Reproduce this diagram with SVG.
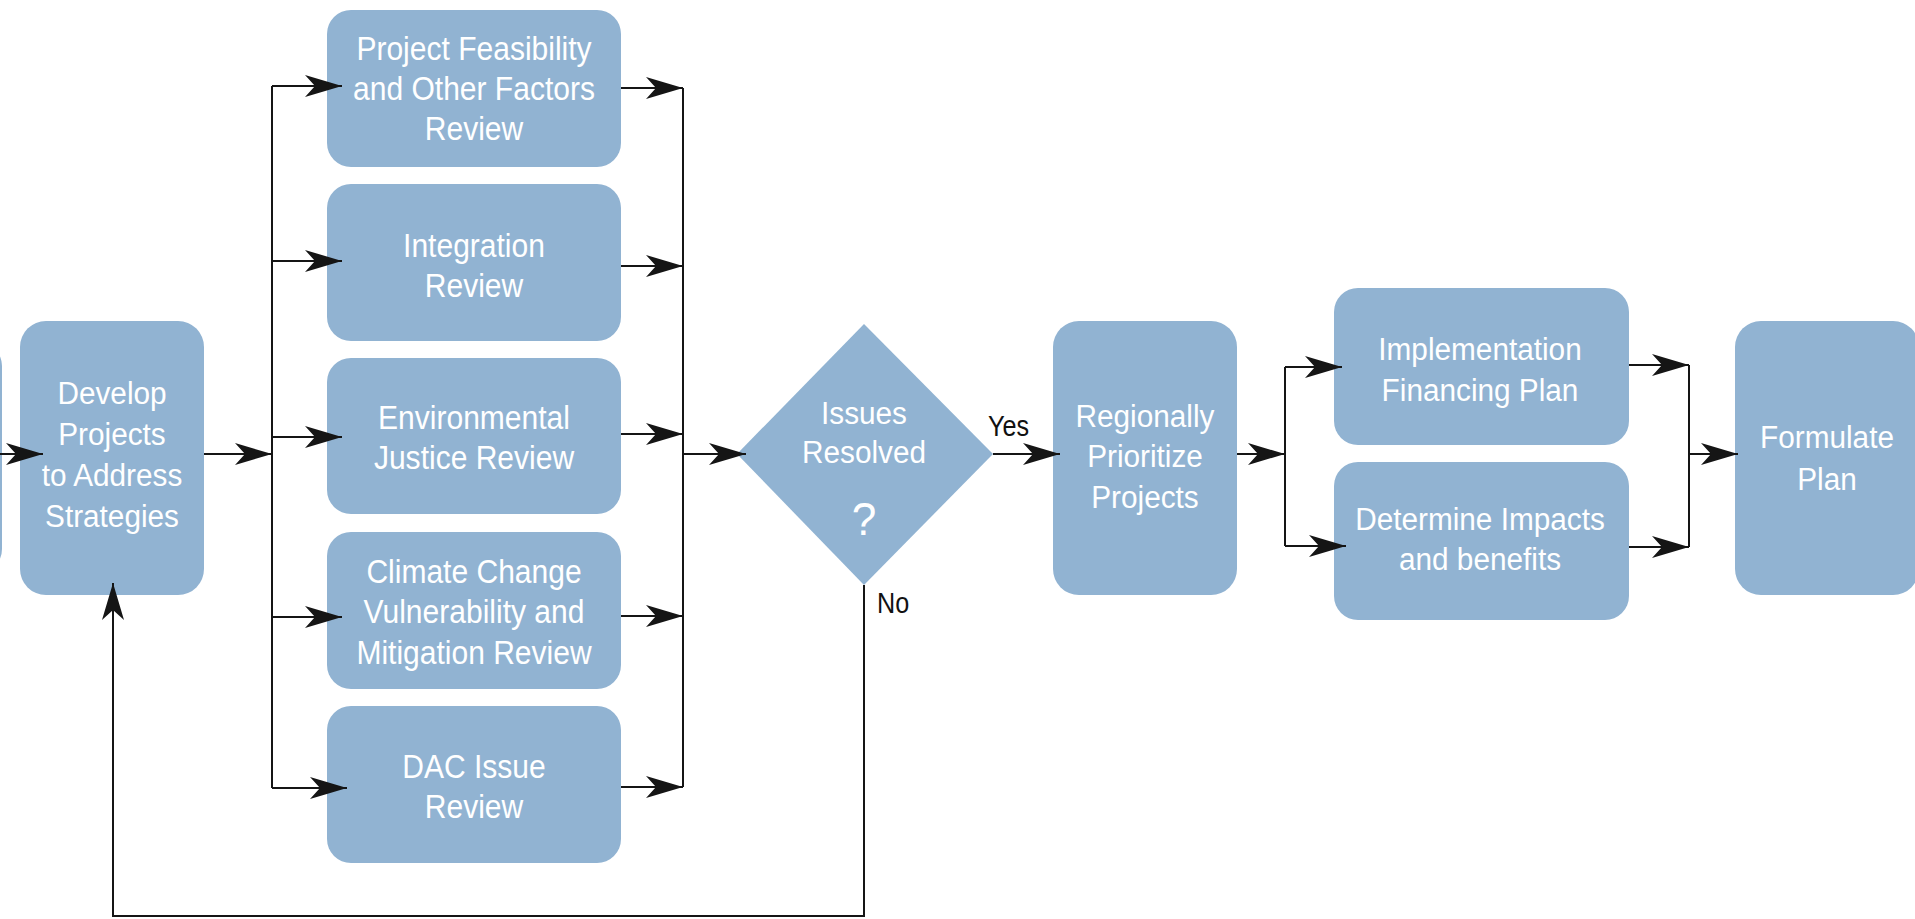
<svg xmlns="http://www.w3.org/2000/svg" width="1915" height="919" viewBox="0 0 1915 919">
  <style>
    .box { fill: #91b3d2; }
    .lbl { font-family: "Liberation Sans", Arial, sans-serif; font-size: 31px; fill: #ffffff; text-anchor: middle; }
    .rlbl { font-family: "Liberation Sans", Arial, sans-serif; font-size: 33px; fill: #ffffff; text-anchor: middle; }
    .q { font-family: "Liberation Sans", Arial, sans-serif; font-size: 46px; fill: #ffffff; text-anchor: middle; }
    .yn { font-family: "Liberation Sans", Arial, sans-serif; font-size: 30px; fill: #111111; }
    .wire { fill: none; stroke: #151515; stroke-width: 2; }
    .arr { marker-end: url(#ah); }
  </style>
  <defs>
    <marker id="ah" viewBox="-38 -12 40 24" refX="0" refY="0" markerWidth="40" markerHeight="24" markerUnits="userSpaceOnUse" orient="auto">
      <path d="M0,0 L-37,-11 L-27,0 L-37,11 Z" fill="#151515"/>
    </marker>
  </defs>

  <rect width="1915" height="919" fill="#ffffff"/>

  <!-- edge of a preceding step, cut off at the left border -->
  <g id="prev-step">
    <rect class="box" x="-180" y="342" width="182" height="231" rx="24"/>
  </g>

  <g id="develop">
    <rect class="box" x="20" y="321" width="184" height="274" rx="26"/>
    <g transform="translate(112 0) scale(0.96 1)">
      <text class="lbl" x="0" y="404">Develop</text>
      <text class="lbl" x="0" y="445">Projects</text>
      <text class="lbl" x="0" y="486">to Address</text>
      <text class="lbl" x="0" y="527">Strategies</text>
    </g>
  </g>

  <g id="feasibility">
    <rect class="box" x="327" y="10" width="294" height="157" rx="24"/>
    <g transform="translate(474 0) scale(0.91 1)">
      <text class="rlbl" x="0" y="60">Project Feasibility</text>
      <text class="rlbl" x="0" y="100">and Other Factors</text>
      <text class="rlbl" x="0" y="140">Review</text>
    </g>
  </g>

  <g id="integration">
    <rect class="box" x="327" y="184" width="294" height="157" rx="24"/>
    <g transform="translate(474 0) scale(0.91 1)">
      <text class="rlbl" x="0" y="257">Integration</text>
      <text class="rlbl" x="0" y="297">Review</text>
    </g>
  </g>

  <g id="env-justice">
    <rect class="box" x="327" y="358" width="294" height="156" rx="24"/>
    <g transform="translate(474 0) scale(0.91 1)">
      <text class="rlbl" x="0" y="429">Environmental</text>
      <text class="rlbl" x="0" y="469">Justice Review</text>
    </g>
  </g>

  <g id="climate">
    <rect class="box" x="327" y="532" width="294" height="157" rx="24"/>
    <g transform="translate(474 0) scale(0.91 1)">
      <text class="rlbl" x="0" y="583">Climate Change</text>
      <text class="rlbl" x="0" y="623">Vulnerability and</text>
      <text class="rlbl" x="0" y="664">Mitigation Review</text>
    </g>
  </g>

  <g id="dac">
    <rect class="box" x="327" y="706" width="294" height="157" rx="24"/>
    <g transform="translate(474 0) scale(0.91 1)">
      <text class="rlbl" x="0" y="778">DAC Issue</text>
      <text class="rlbl" x="0" y="818">Review</text>
    </g>
  </g>

  <g id="decision">
    <polygon class="box" points="864,324 993,454 864,585 737,454"/>
    <g transform="translate(864 0) scale(0.96 1)">
      <text class="lbl" x="0" y="424">Issues</text>
      <text class="lbl" x="0" y="463">Resolved</text>
      <text class="q" x="0" y="535">?</text>
    </g>
  </g>

  <g id="prioritize">
    <rect class="box" x="1053" y="321" width="184" height="274" rx="26"/>
    <g transform="translate(1145 0) scale(0.96 1)">
      <text class="lbl" x="0" y="427">Regionally</text>
      <text class="lbl" x="0" y="467">Prioritize</text>
      <text class="lbl" x="0" y="508">Projects</text>
    </g>
  </g>

  <g id="financing">
    <rect class="box" x="1334" y="288" width="295" height="157" rx="24"/>
    <g transform="translate(1480 0) scale(0.96 1)">
      <text class="lbl" x="0" y="360">Implementation</text>
      <text class="lbl" x="0" y="401">Financing Plan</text>
    </g>
  </g>

  <g id="impacts">
    <rect class="box" x="1334" y="462" width="295" height="158" rx="24"/>
    <g transform="translate(1480 0) scale(0.96 1)">
      <text class="lbl" x="0" y="530">Determine Impacts</text>
      <text class="lbl" x="0" y="570">and benefits</text>
    </g>
  </g>

  <g id="formulate">
    <rect class="box" x="1735" y="321" width="184" height="274" rx="26"/>
    <g transform="translate(1827 0) scale(0.96 1)">
      <text class="lbl" x="0" y="448">Formulate</text>
      <text class="lbl" x="0" y="490">Plan</text>
    </g>
  </g>

  <g id="connectors">
    <path class="wire arr" d="M0,454 H43"/>
    <path class="wire arr" d="M204,454 H272"/>
    <path class="wire" d="M272,86 V788"/>
    <path class="wire arr" d="M272,86 H342"/>
    <path class="wire arr" d="M272,261 H342"/>
    <path class="wire arr" d="M272,437 H342"/>
    <path class="wire arr" d="M272,617 H342"/>
    <path class="wire arr" d="M272,788 H347"/>
    <path class="wire arr" d="M621,88 H683"/>
    <path class="wire arr" d="M621,266 H683"/>
    <path class="wire arr" d="M621,434 H683"/>
    <path class="wire arr" d="M621,616 H683"/>
    <path class="wire arr" d="M621,787 H683"/>
    <path class="wire" d="M683,88 V787"/>
    <path class="wire arr" d="M683,454 H746"/>
    <path class="wire arr" d="M993,454 H1060"/>
    <path class="wire arr" d="M1237,454 H1285"/>
    <path class="wire" d="M1285,367 V546"/>
    <path class="wire arr" d="M1285,367 H1342"/>
    <path class="wire arr" d="M1285,546 H1346"/>
    <path class="wire arr" d="M1629,365 H1689"/>
    <path class="wire arr" d="M1629,547 H1689"/>
    <path class="wire" d="M1689,365 V547"/>
    <path class="wire arr" d="M1689,454 H1738"/>
    <path class="wire arr" d="M864,585 V916 H113 V583"/>
    <g transform="translate(988 436) scale(0.84 1)">
      <text class="yn" x="0" y="0">Yes</text>
    </g>
    <g transform="translate(877 613) scale(0.84 1)">
      <text class="yn" x="0" y="0">No</text>
    </g>
  </g>
</svg>
